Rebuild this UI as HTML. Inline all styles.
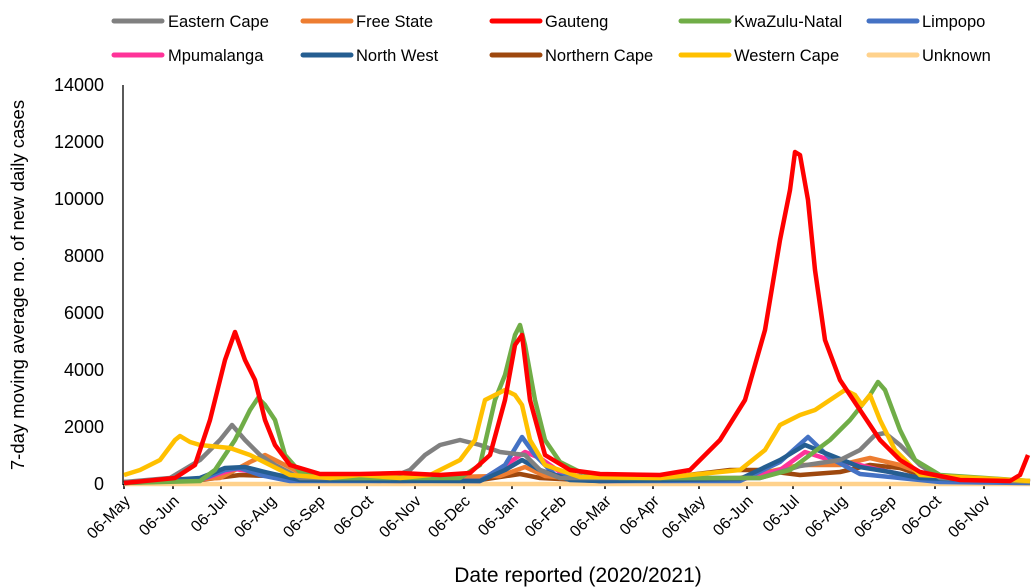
<!DOCTYPE html><html><head><style>body{margin:0;background:#fff}svg{display:block;font-family:"Liberation Sans",sans-serif}</style></head><body>
<svg width="1035" height="588" viewBox="0 0 1035 588">
<g stroke-width="5" stroke-linecap="round">
<line x1="114" y1="21" x2="162" y2="21" stroke="#808080"/><line x1="303" y1="21" x2="351" y2="21" stroke="#ED7D31"/><line x1="492" y1="21" x2="540" y2="21" stroke="#FF0000"/><line x1="681" y1="21" x2="729" y2="21" stroke="#70AD47"/><line x1="869" y1="21" x2="917" y2="21" stroke="#4472C4"/>
<line x1="114" y1="55" x2="162" y2="55" stroke="#FF3399"/><line x1="303" y1="55" x2="351" y2="55" stroke="#255E91"/><line x1="492" y1="55" x2="540" y2="55" stroke="#9E480E"/><line x1="681" y1="55" x2="729" y2="55" stroke="#FFC000"/><line x1="869" y1="55" x2="917" y2="55" stroke="#FFD28C"/>
</g>
<g font-size="16.5" fill="#000">
<text x="168" y="27">Eastern Cape</text><text x="356" y="27">Free State</text><text x="545" y="27">Gauteng</text><text x="734" y="27">KwaZulu-Natal</text><text x="922" y="27">Limpopo</text>
<text x="168" y="61">Mpumalanga</text><text x="356" y="61">North West</text><text x="545" y="61">Northern Cape</text><text x="734" y="61">Western Cape</text><text x="922" y="61">Unknown</text>
</g>
<line x1="123" y1="85" x2="123" y2="485" stroke="#000" stroke-width="1.3"/>
<g font-size="18" text-anchor="end"><text x="104" y="490">0</text><text x="104" y="433">2000</text><text x="104" y="376">4000</text><text x="104" y="319">6000</text><text x="104" y="262">8000</text><text x="104" y="205">10000</text><text x="104" y="148">12000</text><text x="104" y="91">14000</text></g>
<text transform="translate(24,285) rotate(-90)" font-size="18.5" text-anchor="middle">7-day moving average no. of new daily cases</text>
<text x="578" y="582" font-size="21" text-anchor="middle">Date reported (2020/2021)</text>
<g stroke="#000" stroke-width="1.5">
<line x1="124" y1="484" x2="124" y2="489"/><line x1="173" y1="484" x2="173" y2="489"/><line x1="221" y1="484" x2="221" y2="489"/><line x1="270" y1="484" x2="270" y2="489"/><line x1="319" y1="484" x2="319" y2="489"/><line x1="367" y1="484" x2="367" y2="489"/><line x1="415" y1="484" x2="415" y2="489"/><line x1="464" y1="484" x2="464" y2="489"/><line x1="512" y1="484" x2="512" y2="489"/><line x1="560" y1="484" x2="560" y2="489"/><line x1="605" y1="484" x2="605" y2="489"/><line x1="653" y1="484" x2="653" y2="489"/><line x1="699" y1="484" x2="699" y2="489"/><line x1="747" y1="484" x2="747" y2="489"/><line x1="793" y1="484" x2="793" y2="489"/><line x1="841" y1="484" x2="841" y2="489"/><line x1="890" y1="484" x2="890" y2="489"/><line x1="935" y1="484" x2="935" y2="489"/><line x1="984" y1="484" x2="984" y2="489"/>
</g>
<g font-size="16" text-anchor="end">
<text transform="translate(131,502) rotate(-45)">06-May</text><text transform="translate(180,502) rotate(-45)">06-Jun</text><text transform="translate(228,502) rotate(-45)">06-Jul</text><text transform="translate(277,502) rotate(-45)">06-Aug</text><text transform="translate(326,502) rotate(-45)">06-Sep</text><text transform="translate(374,502) rotate(-45)">06-Oct</text><text transform="translate(422,502) rotate(-45)">06-Nov</text><text transform="translate(471,502) rotate(-45)">06-Dec</text><text transform="translate(519,502) rotate(-45)">06-Jan</text><text transform="translate(567,502) rotate(-45)">06-Feb</text><text transform="translate(612,502) rotate(-45)">06-Mar</text><text transform="translate(660,502) rotate(-45)">06-Apr</text><text transform="translate(706,502) rotate(-45)">06-May</text><text transform="translate(754,502) rotate(-45)">06-Jun</text><text transform="translate(800,502) rotate(-45)">06-Jul</text><text transform="translate(848,502) rotate(-45)">06-Aug</text><text transform="translate(897,502) rotate(-45)">06-Sep</text><text transform="translate(942,502) rotate(-45)">06-Oct</text><text transform="translate(991,502) rotate(-45)">06-Nov</text>
</g>
<g fill="none" stroke-width="4.5" stroke-linejoin="round">
<polyline stroke="#FFD28C" points="124,484 1030,484"/>
<polyline stroke="#9E480E" points="124,482 200,480 240,475 270,476 300,480 400,481 480,480 520,474 540,478 600,481 680,476 730,470 760,470 800,475 840,472 870,465 900,468 930,478 1030,482"/>
<polyline stroke="#ED7D31" points="124,483 220,478 250,462 265,455 285,465 310,478 400,478 500,476 525,467 545,476 600,481 740,478 800,465 840,465 870,458 900,465 935,478 1030,482"/>
<polyline stroke="#FF3399" points="124,483 200,480 225,472 235,469 255,472 280,478 480,481 510,462 525,452 540,458 560,472 600,481 740,480 780,470 805,452 830,460 860,465 880,470 920,478 1030,482"/>
<polyline stroke="#4472C4" points="124,483 200,480 225,470 240,468 260,475 290,481 480,481 505,465 522,437 535,455 555,475 600,481 740,481 780,462 808,437 830,458 860,474 900,478 940,482 1030,483"/>
<polyline stroke="#255E91" points="124,483 200,478 225,468 245,467 265,472 300,480 480,481 505,470 522,460 540,470 570,480 600,481 740,479 780,460 805,445 830,455 860,467 890,472 920,478 1030,482"/>
<polyline stroke="#808080" points="124,482 170,478 200,460 220,440 232,425 245,440 260,455 275,465 300,478 390,478 410,470 425,455 440,445 460,440 480,445 500,452 525,455 540,470 560,478 760,478 800,466 840,460 860,450 875,435 885,433 900,445 920,465 940,478 1030,482"/>
<polyline stroke="#70AD47" points="124,483 200,481 215,470 235,440 250,410 258,398 265,405 275,420 285,455 300,472 330,478 460,478 480,465 495,400 505,375 515,335 520,325 525,345 535,400 545,440 560,462 580,472 620,478 760,478 790,470 810,455 830,440 850,420 870,395 878,382 885,390 900,430 915,460 940,475 1030,481"/>
<polyline stroke="#FFC000" points="124,475 140,470 160,460 175,440 180,436 190,442 200,445 230,448 250,455 270,465 290,475 330,478 360,475 400,478 430,475 460,460 475,440 485,400 495,395 505,390 515,395 522,405 530,440 545,465 580,477 660,478 740,470 765,450 780,425 800,415 815,410 830,400 845,390 855,395 862,405 870,395 880,420 895,450 920,475 1030,481"/>
<polyline stroke="#FF0000" points="124,483 175,478 195,465 210,420 225,360 235,332 245,360 255,380 265,420 275,445 290,465 320,474 360,474 400,473 440,475 470,473 490,455 505,400 515,345 522,335 530,400 545,455 570,470 600,474 660,475 690,470 720,440 745,400 765,330 780,240 790,190 795,152 800,155 808,200 815,270 825,340 840,380 860,410 880,440 900,460 920,472 960,480 1010,481 1020,475 1028,455"/>
</g>
</svg></body></html>
